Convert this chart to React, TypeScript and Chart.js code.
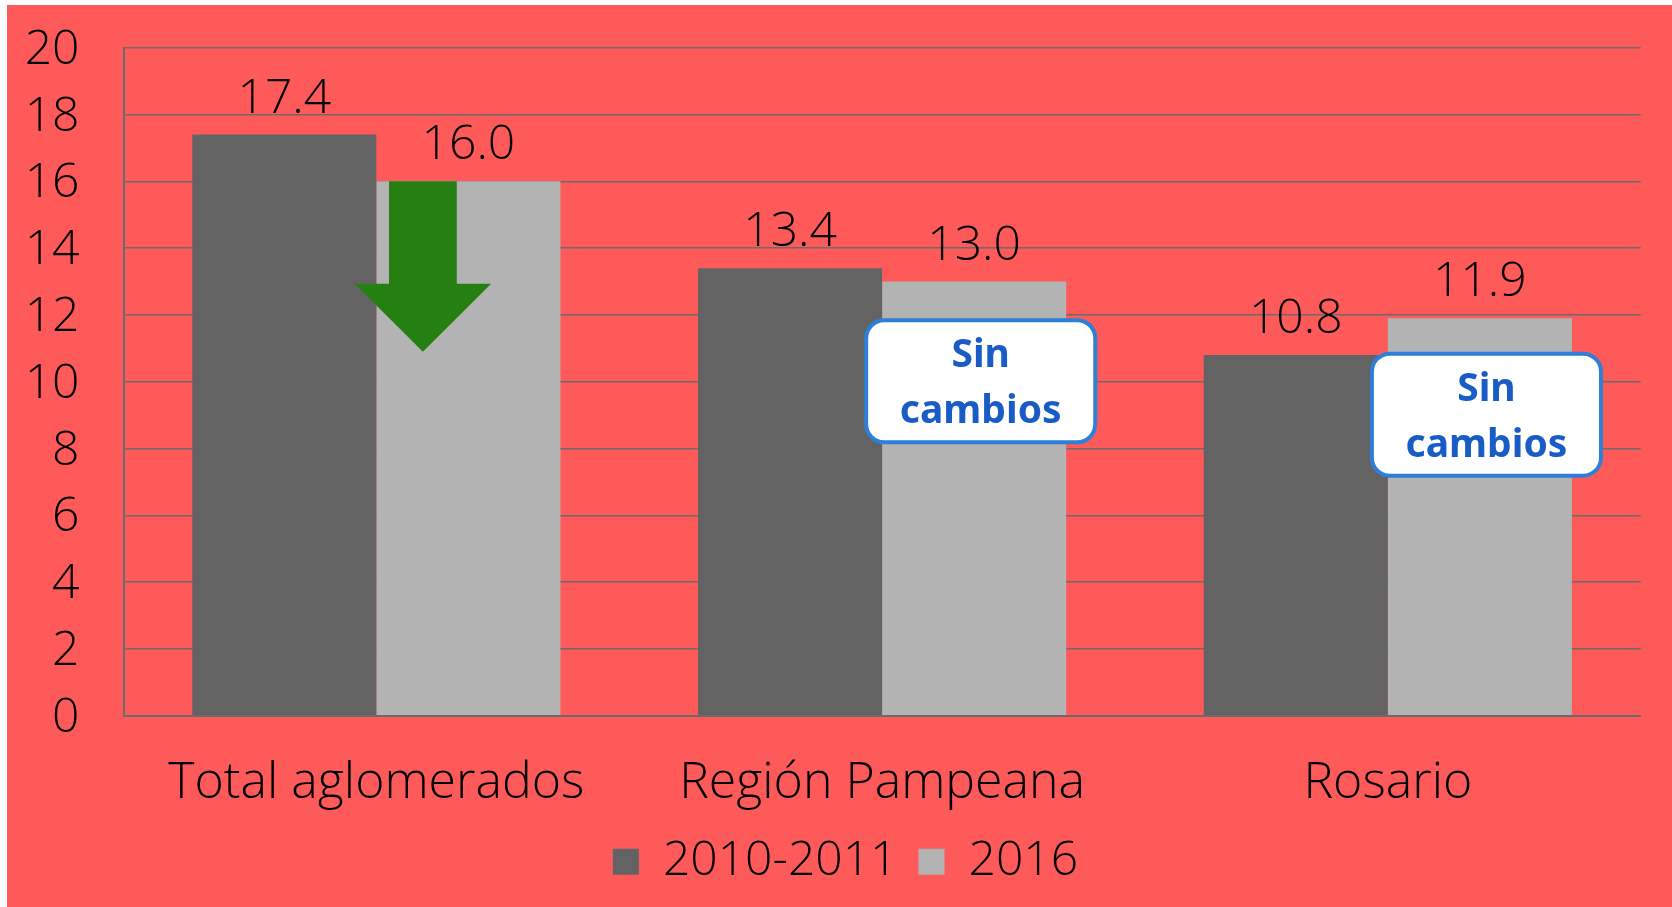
import React, { useEffect, useRef } from "react";
import { Chart, registerables } from "chart.js";

Chart.register(...registerables);

// ---- data ----
const categories = ["Total aglomerados", "Región Pampeana", "Rosario"];
const seriesNames = ["2010-2011", "2016"];
const values2010 = [17.4, 13.4, 10.8];
const values2016 = [16.0, 13.0, 11.9];
const yMin = 0;
const yMax = 20;
const yStep = 2;

// annotations (text + anchoring in data units)
const noteLines = ["Sin", "cambios"];
const noteCategories = [1, 2];
const noteTopValues = [11.9, 10.9];
const arrowCategory = 0;
const arrowNeckValue = 12.93;
const arrowTipValue = 10.9;

// ---- styles ----
const FONT = '"Open Sans", "DejaVu Sans", sans-serif';
const RED = "#FF5A5A";
const DARK = "#636363";
const LIGHT = "#B3B3B3";
const GRID = "#6B6B6B";

const valueLabelsPlugin = {
  id: "valueLabels",
  afterDatasetsDraw(chart: any) {
    const ctx = chart.ctx;
    ctx.save();
    ctx.font = `300 48px ${FONT}`;
    ctx.fillStyle = "#000";
    ctx.textAlign = "center";
    ctx.textBaseline = "alphabetic";
    chart.data.datasets.forEach((ds: any, i: number) => {
      const meta = chart.getDatasetMeta(i);
      meta.data.forEach((bar: any, j: number) => {
        ctx.fillText(Number(ds.data[j]).toFixed(1), bar.x, bar.y - 22);
      });
    });
    ctx.restore();
  },
};

const annotationsPlugin = {
  id: "annotations",
  afterDatasetsDraw(chart: any) {
    const ctx = chart.ctx;
    const xs = chart.scales.x;
    const ys = chart.scales.y;
    const catW = xs.width / categories.length;

    // green arrow
    {
      const cx = xs.getPixelForValue(arrowCategory) + 0.092 * catW;
      const shaftHalf = 0.067 * catW;
      const headHalf = 0.135 * catW;
      const top = ys.getPixelForValue(values2016[arrowCategory]);
      const neck = ys.getPixelForValue(arrowNeckValue);
      const tip = ys.getPixelForValue(arrowTipValue);
      ctx.save();
      ctx.fillStyle = "#267F12";
      ctx.beginPath();
      ctx.moveTo(cx - shaftHalf, top);
      ctx.lineTo(cx + shaftHalf, top);
      ctx.lineTo(cx + shaftHalf, neck);
      ctx.lineTo(cx + headHalf, neck);
      ctx.lineTo(cx, tip);
      ctx.lineTo(cx - headHalf, neck);
      ctx.lineTo(cx - shaftHalf, neck);
      ctx.closePath();
      ctx.fill();
      ctx.restore();
    }

    // "Sin cambios" boxes
    noteCategories.forEach((cat, k) => {
      const cx = xs.getPixelForValue(cat) + 0.195 * catW;
      const w = 0.453 * catW;
      const h = 122;
      const top = ys.getPixelForValue(noteTopValues[k]) + 2;
      const left = cx - w / 2;
      ctx.save();
      ctx.beginPath();
      ctx.roundRect(left, top, w, h, 18);
      ctx.fillStyle = "#FFFFFF";
      ctx.fill();
      ctx.lineWidth = 4;
      ctx.strokeStyle = "#2E7FD6";
      ctx.stroke();
      ctx.fillStyle = "#1A5CC6";
      ctx.font = `bold 39px "Noto Sans", ${FONT}`;
      ctx.textAlign = "center";
      ctx.textBaseline = "alphabetic";
      ctx.fillText(noteLines[0], cx, top + 47);
      ctx.fillText(noteLines[1], cx, top + 103);
      ctx.restore();
    });
  },
};

export default function App() {
  const canvasRef = useRef<HTMLCanvasElement | null>(null);

  useEffect(() => {
    const canvas = canvasRef.current;
    if (!canvas) return;
    const chart = new Chart(canvas, {
      type: "bar",
      data: {
        labels: categories,
        datasets: [
          {
            label: seriesNames[0],
            data: values2010,
            backgroundColor: DARK,
            borderWidth: 0,
            categoryPercentage: 0.728,
            barPercentage: 1.0,
          },
          {
            label: seriesNames[1],
            data: values2016,
            backgroundColor: LIGHT,
            borderWidth: 0,
            categoryPercentage: 0.728,
            barPercentage: 1.0,
          },
        ],
      },
      options: {
        responsive: false,
        animation: false,
        devicePixelRatio: 1,
        layout: {
          padding: { top: 42.7, right: 0, bottom: 11.3, left: 12 },
        },
        scales: {
          x: {
            grid: { display: false, drawTicks: false },
            border: { display: true, color: GRID, width: 2 },
            ticks: {
              color: "#000",
              font: { family: FONT, size: 50, weight: "300" },
              padding: 38,
              maxRotation: 0,
              autoSkip: false,
            },
            afterFit: (s: any) => {
              s.height = 101;
            },
          },
          y: {
            min: yMin,
            max: yMax,
            grid: { color: GRID, lineWidth: 1.5, drawTicks: false },
            border: { display: true, color: GRID, width: 2 },
            ticks: {
              stepSize: yStep,
              color: "#000",
              font: { family: FONT, size: 48, weight: "300" },
              padding: 44,
              labelOffset: 2.5,
            },
            afterFit: (s: any) => {
              s.width = 116.5 - 12;
              s.paddingTop = 0;
              s.paddingBottom = 0;
            },
          },
          spacer: {
            type: "linear",
            position: "right",
            display: true,
            grid: { display: false, drawTicks: false },
            border: { display: false },
            ticks: { display: false },
            afterFit: (s: any) => {
              s.width = 31.3;
              s.paddingTop = 0;
              s.paddingBottom = 0;
            },
          },
        },
        plugins: {
          legend: {
            position: "bottom",
            labels: {
              color: "#000",
              font: { family: FONT, size: 48, weight: "300" },
              boxWidth: 26,
              boxHeight: 26,
              padding: 21,
            },
          },
          tooltip: { enabled: false },
        },
      },
      plugins: [valueLabelsPlugin, annotationsPlugin],
    } as any);
    return () => chart.destroy();
  }, []);

  return (
    <div
      style={{
        position: "fixed",
        left: 0,
        top: 0,
        width: 1672,
        height: 907,
        background: "#FFFFFF",
        overflow: "hidden",
      }}
    >
      <div
        style={{
          position: "absolute",
          left: 7,
          top: 5,
          width: 1665,
          height: 902,
          background: RED,
        }}
      >
        <canvas
          ref={canvasRef}
          width={1665}
          height={902}
          style={{ display: "block", width: 1665, height: 902 }}
        />
      </div>
    </div>
  );
}
